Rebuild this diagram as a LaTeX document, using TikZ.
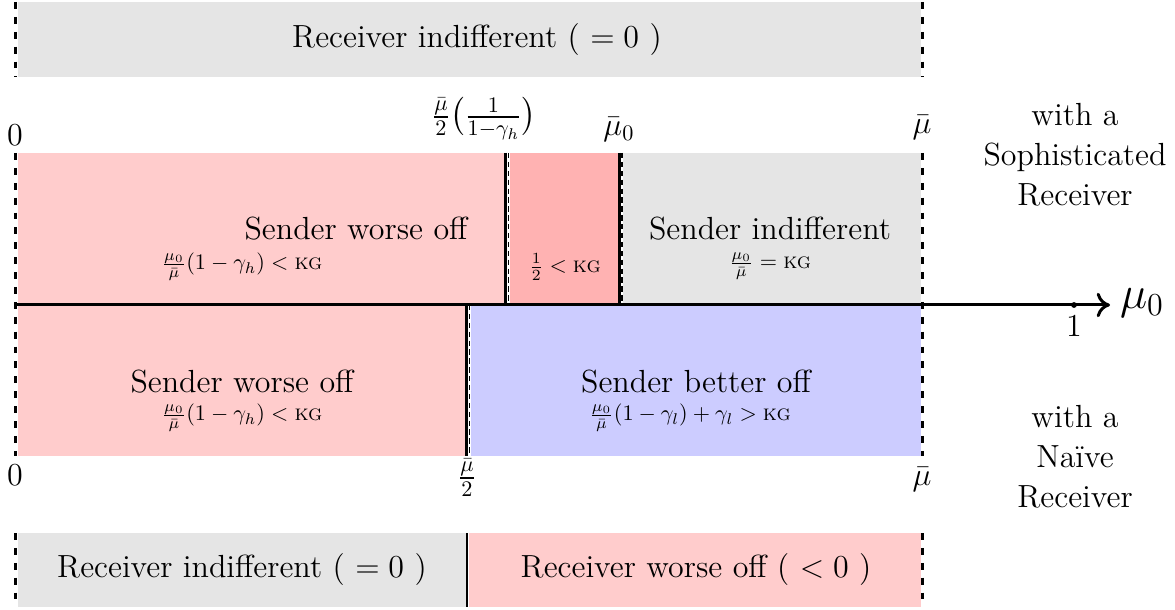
\documentclass[tikz,border=0pt]{standalone}
\usepackage{amsmath}
\usetikzlibrary{arrows.meta}
\begin{document}
\begin{tikzpicture}[x=0.45pt,y=-0.45pt,
  bigtxt/.style={font=\Large, inner sep=1pt},
  smalltxt/.style={font=\normalsize, inner sep=0.5pt},
  bounddash/.style={line width=1.35pt, dash pattern=on 3.1pt off 3.6pt},
  divsolid/.style={line width=1.35pt},
  divdash/.style={line width=0.55pt, dash pattern=on 2.4pt off 1.6pt},
  axisline/.style={line width=1.35pt, -{Computer Modern Rightarrow[length=6pt,width=11pt]}}]
\useasboundingbox (0,0) rectangle (1175,610);
% fills
\fill[gray!20] (18,2) rectangle (921,77);
\fill[red!20] (18,153) rectangle (504,305);
\fill[red!30] (509.5,153) rectangle (617.5,305);
\fill[gray!20] (623,153) rectangle (921,305);
\fill[red!20] (18,305) rectangle (465,456);
\fill[blue!20] (470.5,305) rectangle (921,456);
\fill[gray!20] (18,533) rectangle (466,607);
\fill[red!20] (469,533) rectangle (921,607);
% coordinates
\coordinate (lt1) at (15,2);   \coordinate (lb1) at (15,77);
\coordinate (rt1) at (922,2);  \coordinate (rb1) at (922,77);
\coordinate (lt2) at (15,153); \coordinate (lb2) at (15,456);
\coordinate (rt2) at (922,153);\coordinate (rb2) at (922,456);
\coordinate (lt3) at (15,533); \coordinate (lb3) at (15,607);
\coordinate (rt3) at (922,533);\coordinate (rb3) at (922,607);
\coordinate (d1t) at (505,153); \coordinate (d1b) at (505,305);
\coordinate (e1t) at (508.3,153); \coordinate (e1b) at (508.3,305);
\coordinate (d2t) at (619,153); \coordinate (d2b) at (619,305);
\coordinate (e2t) at (622,153); \coordinate (e2b) at (622,305);
\coordinate (d3t) at (466,305); \coordinate (d3b) at (466,456);
\coordinate (e3t) at (469.3,305); \coordinate (e3b) at (469.3,456);
\coordinate (d4t) at (467,533); \coordinate (d4b) at (467,607);
\coordinate (ax0) at (15,305); \coordinate (ax1) at (1110,305);
\coordinate (one) at (1074,305);
% boundaries
\draw[bounddash] (lt1) -- (lb1);
\draw[bounddash] (rt1) -- (rb1);
\draw[bounddash] (lt2) -- (lb2);
\draw[bounddash] (rt2) -- (rb2);
\draw[bounddash] (lt3) -- (lb3);
\draw[bounddash] (rt3) -- (rb3);
% dividers
\draw[divsolid] (d1t) -- (d1b);
\draw[divdash] (e1t) -- (e1b);
\draw[divsolid] (d2t) -- (d2b);
\draw[divdash] (e2t) -- (e2b);
\draw[divsolid] (d3t) -- (d3b);
\draw[divdash] (e3t) -- (e3b);
\draw[line width=1pt] (d4t) -- (d4b);
% axis
\draw[axisline] (ax0) -- (ax1);
\fill (one) circle (1.3pt);
\node[bigtxt] (onelbl) at (1074,326) {$1$};
\node[font=\huge, inner sep=1pt] (mu0) at (1142,303) {$\mu_0$};
% axis labels
\node[bigtxt] (z1) at (15,135) {$0$};
\node[bigtxt] (thr) at (484,119) {$\frac{\bar\mu}{2}\bigl(\frac{1}{1-\gamma_h}\bigr)$};
\node[bigtxt] (mu0b) at (619,130) {$\bar\mu_0$};
\node[bigtxt] (mub1) at (922,128) {$\bar\mu$};
\node[bigtxt] (z2) at (15,475) {$0$};
\node[bigtxt] (half) at (467,478) {$\frac{\bar\mu}{2}$};
\node[bigtxt] (mub2) at (922,480) {$\bar\mu$};
% region texts
\node[bigtxt] (rtop) at (477,40) {Receiver indifferent ( $=0$ )};
\node[bigtxt] (sw1) at (356,229) {Sender worse off};
\node[smalltxt] (sw1f) at (242,267) {$\frac{\mu_0}{\bar\mu}(1-\gamma_h) < \textsc{kg}$};
\node[smalltxt] (hf) at (565,267) {$\frac{1}{2} < \textsc{kg}$};
\node[bigtxt] (si) at (770,229) {Sender indifferent};
\node[smalltxt] (sif) at (770,266) {$\frac{\mu_0}{\bar\mu} = \textsc{kg}$};
\node[bigtxt] (sw2) at (242,382) {Sender worse off};
\node[smalltxt] (sw2f) at (242,418) {$\frac{\mu_0}{\bar\mu}(1-\gamma_h) < \textsc{kg}$};
\node[bigtxt] (sb) at (696,382) {Sender better off};
\node[smalltxt] (sbf) at (690,418) {$\frac{\mu_0}{\bar\mu}(1-\gamma_l)+\gamma_l > \textsc{kg}$};
\node[bigtxt] (rb1) at (242,570) {Receiver indifferent ( $=0$ )};
\node[bigtxt] (rb2) at (696,570) {Receiver worse off ( $<0$ )};
% side labels
\node[bigtxt, align=center] (soph) at (1075,155) {with a\\Sophisticated\\Receiver};
\node[bigtxt, align=center] (naive) at (1075,457) {with a\\Na\"{\i}ve\\Receiver};
\end{tikzpicture}
\end{document}
